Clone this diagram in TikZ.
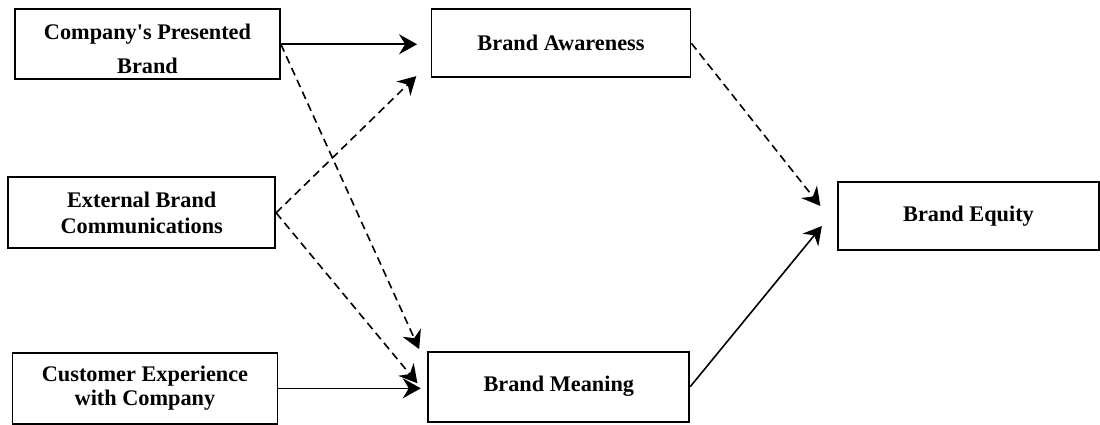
\documentclass[tikz,border=0pt]{standalone}
\usepackage{fontspec}
\setmainfont{Liberation Serif}[Ligatures=TeXOff]
\usetikzlibrary{arrows.meta}
\begin{document}
\begin{tikzpicture}[x=1pt,y=-1pt,
  box/.style={draw, line width=1.8pt, inner sep=0pt, align=center},
  fnt/.style={font=\bfseries\fontsize{22.3}{#1}\selectfont},
  conn/.style={line width=1.6pt, -{Stealth[length=18pt,width=20pt,inset=6pt]}},
  dashconn/.style={conn, dash pattern=on 8pt off 5pt}]
\useasboundingbox (0,0) rectangle (1100,425);

\node[box, fnt=34.5, minimum width=265pt, minimum height=70pt] (cpb) at (147.5,44.3)
  {\rule{0pt}{25pt}Company's Presented\\Brand};
\node[box, fnt=26.7, minimum width=267pt, minimum height=71pt] (ebc) at (141.7,212.8)
  {External Brand\\Communications};
\node[box, fnt=24.3, minimum width=265pt, minimum height=71pt] (cec) at (145,388.3)
  {Customer Experience\\with Company};
\node[box, fnt=27, minimum width=259pt, minimum height=68pt] (ba) at (561,43.3)
  {Brand Awareness};
\node[box, fnt=27, minimum width=261pt, minimum height=70pt] (bm) at (558.8,386.7)
  {Brand Meaning};
\node[box, fnt=27, minimum width=261pt, minimum height=68pt] (be) at (968.5,215.8)
  {Brand Equity};

\draw[conn, shorten >=13.5pt] (cpb.east) -- (cpb.east -| ba.west);
\draw[dashconn, shorten >=20pt] (ebc.east) -- ([yshift=16pt]ba.south west);
\draw[dashconn, shorten >=20pt] (cpb.east) -- ([yshift=-16.5pt]bm.north west);
\draw[dashconn, shorten >=15.6pt] (ebc.east) -- ([yshift=-8.6pt]bm.west);
\draw[conn, shorten >=6.6pt] (cec.east) -- (cec.east -| bm.west);
\draw[dashconn, shorten >=27pt] (ba.east) -- ([yshift=-11.3pt]be.west);
\draw[conn, shorten >=24pt] (bm.east) -- ([yshift=8.3pt]be.west);
\end{tikzpicture}
\end{document}
